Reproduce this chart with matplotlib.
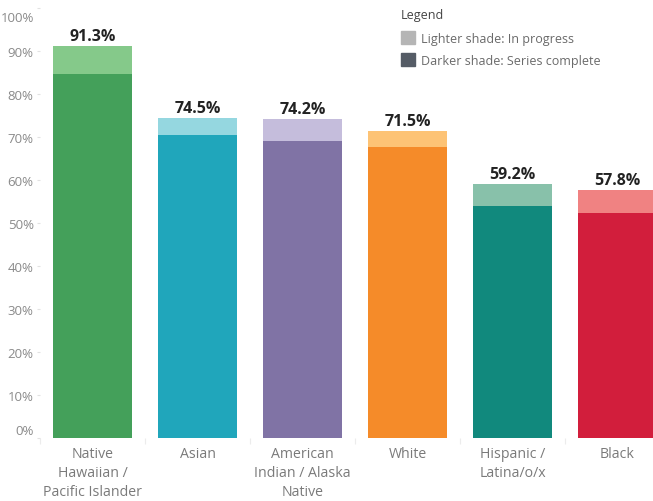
import matplotlib.pyplot as plt
import matplotlib.transforms as mtransforms
from matplotlib.patches import Patch

plt.rcParams['font.family'] = ['Open Sans', 'DejaVu Sans']

# Data
groups = ["Native\nHawaiian /\nPacific Islander", "Asian", "American\nIndian / Alaska\nNative",
          "White", "Hispanic /\nLatina/o/x", "Black"]
total_pct = [91.3, 74.5, 74.2, 71.5, 59.2, 57.8]      # lighter shade: in progress (top)
complete_pct = [84.7, 70.5, 69.1, 67.8, 54.0, 52.4]   # darker shade: series complete

dark_colors = ["#44A05A", "#20A6BB", "#8073A5", "#F58B29", "#11897D", "#D21E3C"]
light_colors = ["#85C98A", "#95D7E0", "#C5BDDC", "#FDC375", "#88C1AA", "#F08282"]

y_ticks = list(range(0, 101, 10))

W, H = 653, 502
fig = plt.figure(figsize=(W / 100, H / 100), dpi=100)
# axes runs a bit past the right edge, the last bar is clipped like in the original
ax = fig.add_axes([40 / W, 63 / H, 630 / W, 439 / H])

x = range(len(groups))
ax.bar(x, total_pct, width=0.752, color=light_colors, zorder=2)
ax.bar(x, complete_pct, width=0.752, color=dark_colors, zorder=3)

for i, v in enumerate(total_pct):
    ax.annotate(f"{v}%", (i, v), xytext=(0, 1.5), textcoords="offset points",
                ha="center", va="bottom", fontsize=11.5, fontweight="bold", color="#222222")

ax.set_xlim(-0.5, len(groups) - 0.5)
ax.set_ylim(0, 102.16)

for s in ax.spines.values():
    s.set_visible(False)

ax.set_yticks(y_ticks)
ax.set_yticklabels([f"{t}%" for t in y_ticks])
ax.tick_params(axis="y", length=2.5, width=0.8, color="#e2e2e2", pad=2,
               labelsize=9.5, labelcolor="#8a8a8a")

ax.set_xticks(list(x))
ax.set_xticklabels(groups, linespacing=1.35)
ax.tick_params(axis="x", length=0, pad=6, labelsize=10.2, labelcolor="#7a7a7a")
ax.set_xticks([i - 0.5 for i in range(len(groups) + 1)], minor=True)
ax.tick_params(axis="x", which="minor", length=4, width=0.8, color="#ececec")

# edge labels are nudged inside the view, as the original tool does
yt = ax.yaxis.get_major_ticks()
yt[0].label1.set_transform(yt[0].label1.get_transform()
                           + mtransforms.ScaledTranslation(0, 9 / 100, fig.dpi_scale_trans))
yt[-1].label1.set_transform(yt[-1].label1.get_transform()
                            + mtransforms.ScaledTranslation(0, -8 / 100, fig.dpi_scale_trans))

handles = [Patch(color="#b5b5b5", label="Lighter shade: In progress"),
           Patch(color="#555c66", label="Darker shade: Series complete")]
leg = fig.legend(handles=handles, title="Legend", loc="upper left",
                 bbox_to_anchor=(398 / W, 1 - 7 / H), frameon=False,
                 fontsize=9, title_fontsize=9, handlelength=1.15, handleheight=1.15,
                 handletextpad=0.45, labelspacing=0.7, borderaxespad=0, borderpad=0.2)
leg._legend_box.align = "left"
leg._legend_box.sep = 7
for t in leg.get_texts():
    t.set_color("#6a6a6a")
leg.get_title().set_color("#444444")

fig.savefig("out.png", dpi=100)
